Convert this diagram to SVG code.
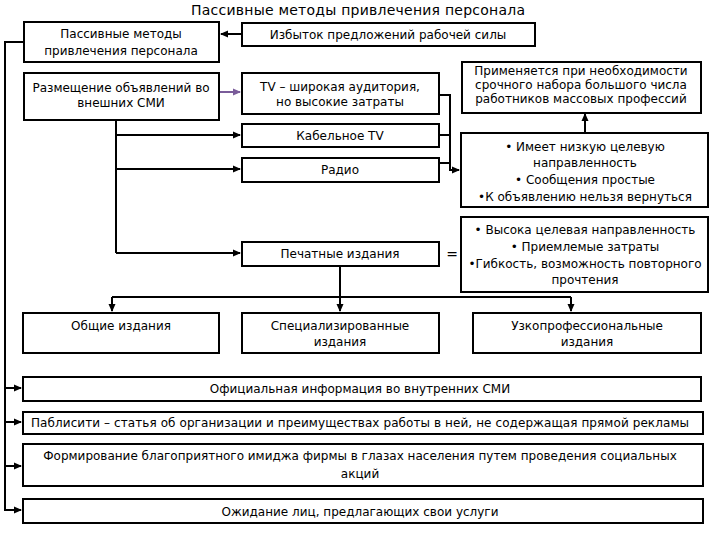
<svg xmlns="http://www.w3.org/2000/svg" width="720" height="540" viewBox="0 0 720 540">
<style>
.b{fill:#fff;stroke:#000;stroke-width:2}
.t{font-family:"DejaVu Sans","Liberation Sans",sans-serif;font-size:12px;fill:#000;text-anchor:middle}
.ti{font-family:"DejaVu Sans","Liberation Sans",sans-serif;font-size:14px;fill:#000;text-anchor:middle}
.c{fill:none;stroke:#000;stroke-width:2}
</style>
<defs>
<marker id="ah" markerWidth="8" markerHeight="8" refX="7" refY="4" orient="auto" markerUnits="userSpaceOnUse">
<path d="M0,0.5 L8,4 L0,7.5 Z" fill="#000"/>
</marker>
<marker id="ap" markerWidth="8" markerHeight="8" refX="7" refY="4" orient="auto" markerUnits="userSpaceOnUse">
<path d="M0,0.5 L8,4 L0,7.5 Z" fill="#7a5c9a"/>
</marker>
</defs>
<rect width="720" height="540" fill="#fff"/>
<text class="ti" x="358" y="15" textLength="334">Пассивные методы привлечения персонала</text>

<g id="connectors">
<path class="c" d="M242,34 H221" marker-end="url(#ah)"/>
<path d="M219,92 H240" fill="none" stroke="#7a5c9a" stroke-width="2" marker-end="url(#ap)"/>
<path class="c" d="M439,95 H450 V170 H459" marker-end="url(#ah)"/>
<path class="c" d="M439,135 H450"/>
<path class="c" d="M439,163 H450"/>
<path class="c" d="M585,133 V114" marker-end="url(#ah)"/>
<path class="c" d="M116,120 V253"/>
<path class="c" d="M116,135 H240" marker-end="url(#ah)"/>
<path class="c" d="M116,169 H240" marker-end="url(#ah)"/>
<path class="c" d="M116,253 H240" marker-end="url(#ah)"/>
<path class="c" d="M340,266 V311" marker-end="url(#ah)"/>
<path class="c" d="M112,297 H571"/>
<path class="c" d="M112,297 V311" marker-end="url(#ah)"/>
<path class="c" d="M571,297 V311" marker-end="url(#ah)"/>
<path class="c" d="M24,42 H5 V510 H21" marker-end="url(#ah)"/>
<path class="c" d="M5,388 H21" marker-end="url(#ah)"/>
<path class="c" d="M5,422 H21" marker-end="url(#ah)"/>
<path class="c" d="M5,466 H21" marker-end="url(#ah)"/>
<text class="ti" x="452" y="259">=</text>
</g>

<g id="nA"><rect class="b" x="24" y="22" width="195" height="40"/>
<text class="t" x="121" y="38">Пассивные методы</text><text class="t" x="121" y="55">привлечения персонала</text></g>
<g id="nB"><rect class="b" x="242" y="23" width="293" height="23"/>
<text class="t" x="388" y="39">Избыток предложений рабочей силы</text></g>
<g id="nC"><rect class="b" x="24" y="73" width="195" height="47"/>
<text class="t" x="121" y="92">Размещение объявлений во</text><text class="t" x="121" y="107">внешних СМИ</text></g>
<g id="nD"><rect class="b" x="242" y="73" width="197" height="41"/>
<text class="t" x="340" y="91">TV – широкая аудитория,</text><text class="t" x="340" y="106">но высокие затраты</text></g>
<g id="nE"><rect class="b" x="462" y="62" width="239" height="51"/>
<text class="t" x="581" y="75">Применяется при необходимости</text><text class="t" x="581" y="89">срочного набора большого числа</text><text class="t" x="581" y="103">работников массовых профессий</text></g>
<g id="nF"><rect class="b" x="242" y="124" width="197" height="23"/>
<text class="t" x="340" y="140">Кабельное TV</text></g>
<g id="nG"><rect class="b" x="242" y="158" width="197" height="24"/>
<text class="t" x="340" y="174">Радио</text></g>
<g id="nH"><rect class="b" x="461" y="133" width="247" height="74"/>
<text class="t" x="585" y="151">• Имеет низкую целевую</text><text class="t" x="585" y="167">направленность</text><text class="t" x="585" y="184">• Сообщения простые</text><text class="t" x="585" y="201">•К объявлению нельзя вернуться</text></g>
<g id="nI"><rect class="b" x="242" y="242" width="197" height="24"/>
<text class="t" x="340" y="258">Печатные издания</text></g>
<g id="nJ"><rect class="b" x="461" y="217" width="247" height="75"/>
<text class="t" x="585" y="234">• Высока целевая направленность</text><text class="t" x="585" y="251">• Приемлемые затраты</text><text class="t" x="585" y="268">•Гибкость, возможность повторного</text><text class="t" x="585" y="284">прочтения</text></g>
<g id="nK"><rect class="b" x="23" y="313" width="196" height="40"/>
<text class="t" x="121" y="330">Общие издания</text></g>
<g id="nL"><rect class="b" x="242" y="313" width="197" height="40"/>
<text class="t" x="340" y="330">Специализированные</text><text class="t" x="340" y="346">издания</text></g>
<g id="nM"><rect class="b" x="473" y="313" width="228" height="40"/>
<text class="t" x="587" y="330">Узкопрофессиональные</text><text class="t" x="587" y="346">издания</text></g>
<g id="nN"><rect class="b" x="23" y="377" width="678" height="24"/>
<text class="t" x="360" y="393">Официальная информация во внутренних СМИ</text></g>
<g id="nO"><rect class="b" x="23" y="412" width="680" height="22"/>
<text class="t" x="360" y="427" textLength="658">Паблисити – статья об организации и преимуществах работы в ней, не содержащая прямой рекламы</text></g>
<g id="nP"><rect class="b" x="23" y="444" width="680" height="42"/>
<text class="t" x="360" y="460">Формирование благоприятного имиджа фирмы в глазах населения путем проведения социальных</text><text class="t" x="360" y="478">акций</text></g>
<g id="nQ"><rect class="b" x="23" y="499" width="680" height="24"/>
<text class="t" x="360" y="516">Ожидание лиц, предлагающих свои услуги</text></g>
</svg>
